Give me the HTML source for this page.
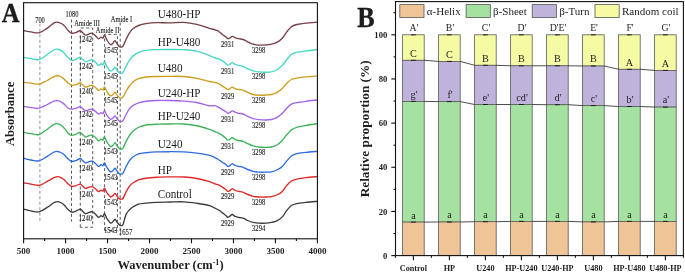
<!DOCTYPE html>
<html><head><meta charset="utf-8"><style>
html,body{margin:0;padding:0;background:#fff;}
svg{display:block;will-change:transform;filter:blur(0.3px);}
text{font-family:"Liberation Serif", serif;fill:#1e1e1e;}
</style></head><body>
<svg width="685" height="275" viewBox="0 0 685 275">
<rect width="685" height="275" fill="#fff"/>
<g stroke="#505050" stroke-width="0.95" stroke-dasharray="3,2.4" fill="none">
<line x1="39.9" y1="23.5" x2="39.9" y2="221.5" stroke="#8a8a8a"/>
<line x1="71.5" y1="19.5" x2="71.5" y2="221.5"/>
<path d="M80.3,227.3 V28 H92.7 V227.3 H80.3"/>
<path d="M104.6,230.5 V34.4 H117.4 V230.5 H104.6"/>
<line x1="120.2" y1="22.5" x2="120.2" y2="235.5"/>
</g>
<path d="M23.60,30.50 C24.83,30.73 28.42,31.52 31.00,31.90 C33.58,32.28 36.38,33.43 39.10,32.80 C41.82,32.17 44.73,29.80 47.30,28.10 C49.87,26.40 52.53,23.52 54.50,22.60 C56.47,21.68 57.58,22.20 59.10,22.60 C60.62,23.00 62.08,23.68 63.60,25.00 C65.12,26.32 66.83,29.13 68.20,30.50 C69.57,31.87 70.43,32.90 71.80,33.20 C73.17,33.50 74.98,32.75 76.40,32.30 C77.82,31.85 79.28,30.45 80.30,30.50 C81.32,30.55 81.63,31.80 82.50,32.58 C83.37,33.35 84.50,34.93 85.50,35.17 C86.50,35.41 87.50,34.36 88.50,34.03 C89.50,33.70 90.75,33.25 91.50,33.20 C92.25,33.15 92.33,33.30 93.00,33.72 C93.67,34.13 94.57,34.84 95.50,35.69 C96.43,36.53 97.68,38.56 98.60,38.80 C99.52,39.04 100.27,37.24 101.00,37.14 C101.73,37.04 102.42,38.51 103.00,38.18 C103.58,37.85 103.83,34.82 104.50,35.17 C105.17,35.51 106.00,38.68 107.00,40.25 C108.00,41.83 109.50,44.13 110.50,44.61 C111.50,45.09 112.25,43.80 113.00,43.16 C113.75,42.52 114.33,40.68 115.00,40.77 C115.67,40.86 116.33,42.76 117.00,43.68 C117.67,44.59 118.37,45.70 119.00,46.27 C119.63,46.84 120.13,47.13 120.80,47.10 C121.47,47.07 122.15,47.29 123.00,46.06 C123.85,44.84 124.82,41.95 125.90,39.75 C126.98,37.55 128.28,34.72 129.50,32.86 C130.72,31.00 131.68,29.83 133.20,28.60 C134.72,27.37 136.48,26.32 138.60,25.50 C140.72,24.68 142.87,24.13 145.90,23.66 C148.93,23.19 152.87,22.81 156.80,22.67 C160.73,22.53 164.97,22.89 169.50,22.84 C174.03,22.80 179.45,22.13 184.00,22.40 C188.55,22.67 192.55,23.46 196.80,24.44 C201.05,25.42 206.47,27.40 209.50,28.29 C212.53,29.19 213.48,29.31 215.00,29.80 C216.52,30.29 217.38,30.46 218.60,31.24 C219.82,32.02 221.08,33.56 222.30,34.50 C223.52,35.44 225.00,36.20 225.90,36.90 C226.80,37.60 227.10,38.48 227.70,38.70 C228.30,38.92 228.73,38.58 229.50,38.20 C230.27,37.82 231.38,36.50 232.30,36.40 C233.22,36.30 233.95,37.22 235.00,37.60 C236.05,37.98 237.23,38.38 238.60,38.70 C239.97,39.02 241.68,38.98 243.20,39.50 C244.72,40.02 246.03,41.02 247.70,41.80 C249.37,42.58 251.38,43.65 253.20,44.20 C255.02,44.75 256.48,44.98 258.60,45.10 C260.72,45.22 263.77,45.05 265.90,44.90 C268.03,44.75 269.58,44.62 271.40,44.20 C273.22,43.78 274.98,43.40 276.80,42.40 C278.62,41.40 280.63,39.97 282.30,38.20 C283.97,36.43 285.28,33.72 286.80,31.80 C288.32,29.88 289.73,27.92 291.40,26.70 C293.07,25.48 294.38,25.10 296.80,24.50 C299.22,23.90 302.47,23.48 305.90,23.10 C309.33,22.72 315.48,22.35 317.40,22.20" fill="none" stroke="#773e48" stroke-width="1.35" stroke-linejoin="round"/>
<path d="M23.60,57.30 C24.83,57.53 28.42,58.32 31.00,58.70 C33.58,59.08 36.38,60.30 39.10,59.60 C41.82,58.90 44.73,56.18 47.30,54.50 C49.87,52.82 52.53,50.33 54.50,49.50 C56.47,48.67 57.58,49.02 59.10,49.50 C60.62,49.98 62.08,51.02 63.60,52.40 C65.12,53.78 66.83,56.47 68.20,57.80 C69.57,59.13 70.43,60.18 71.80,60.40 C73.17,60.62 74.98,59.62 76.40,59.10 C77.82,58.58 79.28,57.26 80.30,57.30 C81.32,57.34 81.63,58.56 82.50,59.31 C83.37,60.07 84.50,61.59 85.50,61.83 C86.50,62.06 87.50,61.04 88.50,60.72 C89.50,60.40 90.75,59.97 91.50,59.92 C92.25,59.87 92.33,60.02 93.00,60.42 C93.67,60.82 94.57,61.51 95.50,62.33 C96.43,63.15 97.68,65.12 98.60,65.35 C99.52,65.58 100.27,63.84 101.00,63.74 C101.73,63.64 102.42,65.06 103.00,64.75 C103.58,64.43 103.83,61.49 104.50,61.83 C105.17,62.16 106.00,65.23 107.00,66.76 C108.00,68.28 109.50,70.52 110.50,70.98 C111.50,71.45 112.25,70.20 113.00,69.58 C113.75,68.96 114.33,67.18 115.00,67.26 C115.67,67.35 116.33,69.19 117.00,70.08 C117.67,70.97 118.37,72.04 119.00,72.59 C119.63,73.15 120.13,73.43 120.80,73.40 C121.47,73.37 122.15,73.53 123.00,72.39 C123.85,71.26 124.82,68.64 125.90,66.60 C126.98,64.56 128.28,61.95 129.50,60.16 C130.72,58.37 131.68,57.17 133.20,55.87 C134.72,54.56 136.48,53.22 138.60,52.31 C140.72,51.40 142.87,50.86 145.90,50.41 C148.93,49.95 152.87,49.71 156.80,49.56 C160.73,49.41 164.97,49.47 169.50,49.50 C174.03,49.52 179.45,49.42 184.00,49.70 C188.55,49.98 192.55,50.20 196.80,51.19 C201.05,52.19 206.47,54.52 209.50,55.65 C212.53,56.79 213.48,57.45 215.00,58.00 C216.52,58.55 217.38,58.49 218.60,58.98 C219.82,59.46 221.08,60.13 222.30,60.90 C223.52,61.67 225.00,62.90 225.90,63.60 C226.80,64.30 227.10,64.95 227.70,65.10 C228.30,65.25 228.73,64.90 229.50,64.50 C230.27,64.10 231.38,62.70 232.30,62.70 C233.22,62.70 233.95,64.05 235.00,64.50 C236.05,64.95 237.23,65.08 238.60,65.40 C239.97,65.72 241.68,65.85 243.20,66.40 C244.72,66.95 246.03,67.95 247.70,68.70 C249.37,69.45 251.38,70.38 253.20,70.90 C255.02,71.42 256.48,71.58 258.60,71.80 C260.72,72.02 263.77,72.20 265.90,72.20 C268.03,72.20 269.58,72.17 271.40,71.80 C273.22,71.43 274.98,71.07 276.80,70.00 C278.62,68.93 280.63,67.13 282.30,65.40 C283.97,63.67 285.28,61.42 286.80,59.60 C288.32,57.78 289.73,55.70 291.40,54.50 C293.07,53.30 294.38,53.00 296.80,52.40 C299.22,51.80 302.47,51.38 305.90,50.90 C309.33,50.42 315.48,49.73 317.40,49.50" fill="none" stroke="#45d6c6" stroke-width="1.35" stroke-linejoin="round"/>
<path d="M23.60,82.30 C24.83,82.45 28.42,82.90 31.00,83.20 C33.58,83.50 36.38,84.55 39.10,84.10 C41.82,83.65 44.73,81.80 47.30,80.50 C49.87,79.20 52.53,77.07 54.50,76.30 C56.47,75.53 57.58,75.52 59.10,75.90 C60.62,76.28 62.08,77.38 63.60,78.60 C65.12,79.82 66.83,82.07 68.20,83.20 C69.57,84.33 70.43,85.17 71.80,85.40 C73.17,85.63 74.98,85.03 76.40,84.60 C77.82,84.17 79.28,82.78 80.30,82.80 C81.32,82.82 81.63,84.00 82.50,84.71 C83.37,85.43 84.50,86.88 85.50,87.10 C86.50,87.33 87.50,86.35 88.50,86.05 C89.50,85.75 90.75,85.33 91.50,85.29 C92.25,85.24 92.33,85.38 93.00,85.76 C93.67,86.15 94.57,86.80 95.50,87.58 C96.43,88.36 97.68,90.23 98.60,90.45 C99.52,90.67 100.27,89.02 101.00,88.92 C101.73,88.82 102.42,90.18 103.00,89.88 C103.58,89.57 103.83,86.78 104.50,87.10 C105.17,87.42 106.00,90.34 107.00,91.79 C108.00,93.24 109.50,95.36 110.50,95.80 C111.50,96.25 112.25,95.06 113.00,94.47 C113.75,93.88 114.33,92.19 115.00,92.27 C115.67,92.35 116.33,94.10 117.00,94.94 C117.67,95.79 118.37,96.81 119.00,97.33 C119.63,97.86 120.13,98.13 120.80,98.10 C121.47,98.07 122.15,98.24 123.00,97.14 C123.85,96.04 124.82,93.40 125.90,91.50 C126.98,89.60 128.28,87.36 129.50,85.73 C130.72,84.11 131.68,82.91 133.20,81.74 C134.72,80.57 136.48,79.50 138.60,78.71 C140.72,77.91 142.87,77.36 145.90,76.99 C148.93,76.62 152.87,76.59 156.80,76.48 C160.73,76.37 164.97,76.32 169.50,76.32 C174.03,76.33 179.45,76.17 184.00,76.50 C188.55,76.83 192.55,77.48 196.80,78.31 C201.05,79.14 206.47,80.81 209.50,81.49 C212.53,82.18 213.48,82.06 215.00,82.40 C216.52,82.74 217.38,82.96 218.60,83.54 C219.82,84.12 221.08,85.11 222.30,85.90 C223.52,86.69 225.00,87.70 225.90,88.30 C226.80,88.90 227.10,89.38 227.70,89.50 C228.30,89.62 228.73,89.38 229.50,89.00 C230.27,88.62 231.38,87.27 232.30,87.20 C233.22,87.13 233.95,88.22 235.00,88.60 C236.05,88.98 237.23,89.25 238.60,89.50 C239.97,89.75 241.68,89.63 243.20,90.10 C244.72,90.57 246.03,91.57 247.70,92.30 C249.37,93.03 251.38,94.02 253.20,94.50 C255.02,94.98 256.48,95.12 258.60,95.20 C260.72,95.28 263.77,95.12 265.90,95.00 C268.03,94.88 269.58,94.90 271.40,94.50 C273.22,94.10 274.98,93.58 276.80,92.60 C278.62,91.62 280.63,90.17 282.30,88.60 C283.97,87.03 285.28,84.72 286.80,83.20 C288.32,81.68 289.73,80.35 291.40,79.50 C293.07,78.65 294.38,78.55 296.80,78.10 C299.22,77.65 302.47,77.17 305.90,76.80 C309.33,76.43 315.48,76.05 317.40,75.90" fill="none" stroke="#cc9e20" stroke-width="1.35" stroke-linejoin="round"/>
<path d="M23.60,106.40 C24.83,106.60 28.42,107.30 31.00,107.60 C33.58,107.90 36.38,108.72 39.10,108.20 C41.82,107.68 44.73,105.72 47.30,104.50 C49.87,103.28 52.53,101.50 54.50,100.90 C56.47,100.30 57.58,100.45 59.10,100.90 C60.62,101.35 62.08,102.38 63.60,103.60 C65.12,104.82 66.83,107.28 68.20,108.20 C69.57,109.12 70.43,109.10 71.80,109.10 C73.17,109.10 74.98,108.60 76.40,108.20 C77.82,107.80 79.28,106.64 80.30,106.70 C81.32,106.76 81.63,107.86 82.50,108.56 C83.37,109.26 84.50,110.67 85.50,110.89 C86.50,111.11 87.50,110.16 88.50,109.87 C89.50,109.57 90.75,109.17 91.50,109.12 C92.25,109.07 92.33,109.21 93.00,109.59 C93.67,109.96 94.57,110.60 95.50,111.36 C96.43,112.12 97.68,113.93 98.60,114.15 C99.52,114.37 100.27,112.75 101.00,112.66 C101.73,112.57 102.42,113.89 103.00,113.59 C103.58,113.30 103.83,110.58 104.50,110.89 C105.17,111.20 106.00,114.04 107.00,115.45 C108.00,116.87 109.50,118.93 110.50,119.36 C111.50,119.80 112.25,118.64 113.00,118.06 C113.75,117.49 114.33,115.84 115.00,115.92 C115.67,116.00 116.33,117.70 117.00,118.53 C117.67,119.35 118.37,120.34 119.00,120.85 C119.63,121.37 120.13,121.63 120.80,121.60 C121.47,121.57 122.15,121.80 123.00,120.67 C123.85,119.54 124.82,116.80 125.90,114.80 C126.98,112.80 128.28,110.26 129.50,108.69 C130.72,107.12 131.68,106.37 133.20,105.39 C134.72,104.41 136.48,103.50 138.60,102.82 C140.72,102.14 142.87,101.68 145.90,101.29 C148.93,100.90 152.87,100.61 156.80,100.48 C160.73,100.34 164.97,100.37 169.50,100.48 C174.03,100.58 179.45,100.76 184.00,101.10 C188.55,101.44 192.55,101.75 196.80,102.52 C201.05,103.30 206.47,105.22 209.50,105.75 C212.53,106.28 213.48,105.43 215.00,105.70 C216.52,105.97 217.38,106.75 218.60,107.40 C219.82,108.05 221.08,108.87 222.30,109.60 C223.52,110.33 225.00,111.18 225.90,111.80 C226.80,112.42 227.10,113.15 227.70,113.30 C228.30,113.45 228.73,113.10 229.50,112.70 C230.27,112.30 231.38,110.98 232.30,110.90 C233.22,110.82 233.95,111.80 235.00,112.20 C236.05,112.60 237.23,113.00 238.60,113.30 C239.97,113.60 241.68,113.48 243.20,114.00 C244.72,114.52 246.03,115.62 247.70,116.40 C249.37,117.18 251.38,118.17 253.20,118.70 C255.02,119.23 256.48,119.38 258.60,119.60 C260.72,119.82 263.77,120.02 265.90,120.00 C268.03,119.98 269.58,119.90 271.40,119.50 C273.22,119.10 274.98,118.63 276.80,117.60 C278.62,116.57 280.63,114.87 282.30,113.30 C283.97,111.73 285.28,109.72 286.80,108.20 C288.32,106.68 289.73,105.12 291.40,104.20 C293.07,103.28 294.38,103.18 296.80,102.70 C299.22,102.22 302.47,101.75 305.90,101.30 C309.33,100.85 315.48,100.22 317.40,100.00" fill="none" stroke="#a462e6" stroke-width="1.35" stroke-linejoin="round"/>
<path d="M23.60,132.30 C24.83,132.53 28.42,133.32 31.00,133.70 C33.58,134.08 36.38,135.35 39.10,134.60 C41.82,133.85 44.73,130.95 47.30,129.20 C49.87,127.45 52.53,124.95 54.50,124.10 C56.47,123.25 57.58,123.55 59.10,124.10 C60.62,124.65 62.08,125.88 63.60,127.40 C65.12,128.92 66.83,131.87 68.20,133.20 C69.57,134.53 70.43,135.25 71.80,135.40 C73.17,135.55 74.98,134.62 76.40,134.10 C77.82,133.58 79.28,132.25 80.30,132.30 C81.32,132.35 81.63,133.62 82.50,134.41 C83.37,135.20 84.50,136.81 85.50,137.05 C86.50,137.30 87.50,136.23 88.50,135.89 C89.50,135.56 90.75,135.10 91.50,135.05 C92.25,134.99 92.33,135.15 93.00,135.57 C93.67,136.00 94.57,136.72 95.50,137.58 C96.43,138.44 97.68,140.50 98.60,140.75 C99.52,141.00 100.27,139.17 101.00,139.06 C101.73,138.95 102.42,140.45 103.00,140.12 C103.58,139.78 103.83,136.70 104.50,137.05 C105.17,137.41 106.00,140.63 107.00,142.23 C108.00,143.83 109.50,146.17 110.50,146.66 C111.50,147.16 112.25,145.84 113.00,145.19 C113.75,144.53 114.33,142.67 115.00,142.76 C115.67,142.84 116.33,144.78 117.00,145.71 C117.67,146.65 118.37,147.77 119.00,148.35 C119.63,148.94 120.13,149.24 120.80,149.20 C121.47,149.16 122.15,149.37 123.00,148.14 C123.85,146.92 124.82,143.97 125.90,141.85 C126.98,139.73 128.28,137.20 129.50,135.40 C130.72,133.61 131.68,132.44 133.20,131.08 C134.72,129.72 136.48,128.25 138.60,127.24 C140.72,126.22 142.87,125.50 145.90,124.99 C148.93,124.48 152.87,124.34 156.80,124.18 C160.73,124.01 164.97,124.03 169.50,124.00 C174.03,123.97 179.45,123.71 184.00,124.00 C188.55,124.29 192.55,124.85 196.80,125.75 C201.05,126.65 206.47,128.42 209.50,129.40 C212.53,130.37 213.48,130.98 215.00,131.60 C216.52,132.22 217.38,132.46 218.60,133.09 C219.82,133.72 221.08,134.53 222.30,135.40 C223.52,136.27 225.00,137.52 225.90,138.30 C226.80,139.08 227.10,139.90 227.70,140.10 C228.30,140.30 228.73,139.90 229.50,139.50 C230.27,139.10 231.38,137.70 232.30,137.70 C233.22,137.70 233.95,139.03 235.00,139.50 C236.05,139.97 237.23,140.18 238.60,140.50 C239.97,140.82 241.68,140.87 243.20,141.40 C244.72,141.93 246.03,142.95 247.70,143.70 C249.37,144.45 251.38,145.35 253.20,145.90 C255.02,146.45 256.48,146.75 258.60,147.00 C260.72,147.25 263.77,147.40 265.90,147.40 C268.03,147.40 269.58,147.40 271.40,147.00 C273.22,146.60 274.98,146.08 276.80,145.00 C278.62,143.92 280.63,142.23 282.30,140.50 C283.97,138.77 285.28,136.37 286.80,134.60 C288.32,132.83 289.73,131.10 291.40,129.90 C293.07,128.70 294.38,128.13 296.80,127.40 C299.22,126.67 302.47,126.12 305.90,125.50 C309.33,124.88 315.48,124.00 317.40,123.70" fill="none" stroke="#3db45a" stroke-width="1.35" stroke-linejoin="round"/>
<path d="M23.60,158.20 C24.83,158.50 28.42,159.55 31.00,160.00 C33.58,160.45 36.38,161.50 39.10,160.90 C41.82,160.30 44.73,157.92 47.30,156.40 C49.87,154.88 52.53,152.57 54.50,151.80 C56.47,151.03 57.58,151.40 59.10,151.80 C60.62,152.20 62.08,152.98 63.60,154.20 C65.12,155.42 66.83,157.88 68.20,159.10 C69.57,160.32 70.43,161.28 71.80,161.50 C73.17,161.72 74.98,160.90 76.40,160.40 C77.82,159.90 79.28,158.49 80.30,158.50 C81.32,158.51 81.63,159.73 82.50,160.46 C83.37,161.20 84.50,162.69 85.50,162.92 C86.50,163.14 87.50,162.15 88.50,161.84 C89.50,161.53 90.75,161.10 91.50,161.05 C92.25,161.00 92.33,161.15 93.00,161.54 C93.67,161.93 94.57,162.60 95.50,163.41 C96.43,164.21 97.68,166.12 98.60,166.35 C99.52,166.58 100.27,164.88 101.00,164.78 C101.73,164.68 102.42,166.07 103.00,165.76 C103.58,165.45 103.83,162.59 104.50,162.92 C105.17,163.24 106.00,166.24 107.00,167.72 C108.00,169.21 109.50,171.39 110.50,171.84 C111.50,172.30 112.25,171.08 113.00,170.47 C113.75,169.87 114.33,168.13 115.00,168.21 C115.67,168.30 116.33,170.10 117.00,170.96 C117.67,171.83 118.37,172.88 119.00,173.41 C119.63,173.95 120.13,174.23 120.80,174.20 C121.47,174.17 122.15,174.41 123.00,173.22 C123.85,172.03 124.82,169.14 125.90,167.05 C126.98,164.96 128.28,162.37 129.50,160.66 C130.72,158.95 131.68,157.90 133.20,156.76 C134.72,155.63 136.48,154.51 138.60,153.84 C140.72,153.17 142.87,153.08 145.90,152.76 C148.93,152.45 152.87,152.11 156.80,151.93 C160.73,151.75 164.97,151.71 169.50,151.70 C174.03,151.69 179.45,151.67 184.00,151.90 C188.55,152.13 192.55,152.52 196.80,153.10 C201.05,153.68 206.47,154.64 209.50,155.39 C212.53,156.14 213.48,156.88 215.00,157.60 C216.52,158.32 217.38,158.94 218.60,159.71 C219.82,160.48 221.08,161.40 222.30,162.20 C223.52,163.00 225.00,163.80 225.90,164.50 C226.80,165.20 227.10,166.18 227.70,166.40 C228.30,166.62 228.73,166.27 229.50,165.80 C230.27,165.33 231.38,163.65 232.30,163.60 C233.22,163.55 233.95,165.03 235.00,165.50 C236.05,165.97 237.23,166.10 238.60,166.40 C239.97,166.70 241.68,166.78 243.20,167.30 C244.72,167.82 246.03,168.83 247.70,169.50 C249.37,170.17 251.38,170.85 253.20,171.30 C255.02,171.75 256.48,172.05 258.60,172.20 C260.72,172.35 263.77,172.27 265.90,172.20 C268.03,172.13 269.58,172.17 271.40,171.80 C273.22,171.43 274.98,170.90 276.80,170.00 C278.62,169.10 280.63,167.92 282.30,166.40 C283.97,164.88 285.28,162.63 286.80,160.90 C288.32,159.17 289.73,157.22 291.40,156.00 C293.07,154.78 294.38,154.20 296.80,153.60 C299.22,153.00 302.47,152.78 305.90,152.40 C309.33,152.02 315.48,151.48 317.40,151.30" fill="none" stroke="#2f6be0" stroke-width="1.35" stroke-linejoin="round"/>
<path d="M23.60,182.80 C24.83,183.02 28.42,183.67 31.00,184.10 C33.58,184.53 36.38,185.85 39.10,185.40 C41.82,184.95 44.73,182.73 47.30,181.40 C49.87,180.07 52.53,178.17 54.50,177.40 C56.47,176.63 57.58,176.50 59.10,176.80 C60.62,177.10 62.08,177.98 63.60,179.20 C65.12,180.42 66.83,182.88 68.20,184.10 C69.57,185.32 70.43,186.28 71.80,186.50 C73.17,186.72 74.98,185.80 76.40,185.40 C77.82,185.00 79.28,184.00 80.30,184.10 C81.32,184.20 81.63,185.28 82.50,185.99 C83.37,186.70 84.50,188.13 85.50,188.35 C86.50,188.57 87.50,187.61 88.50,187.31 C89.50,187.01 90.75,186.60 91.50,186.55 C92.25,186.51 92.33,186.65 93.00,187.03 C93.67,187.40 94.57,188.05 95.50,188.82 C96.43,189.59 97.68,191.43 98.60,191.65 C99.52,191.87 100.27,190.23 101.00,190.14 C101.73,190.05 102.42,191.38 103.00,191.08 C103.58,190.78 103.83,188.03 104.50,188.35 C105.17,188.66 106.00,191.54 107.00,192.97 C108.00,194.40 109.50,196.49 110.50,196.94 C111.50,197.38 112.25,196.20 113.00,195.61 C113.75,195.03 114.33,193.36 115.00,193.44 C115.67,193.52 116.33,195.25 117.00,196.09 C117.67,196.92 118.37,197.93 119.00,198.44 C119.63,198.96 120.13,199.23 120.80,199.20 C121.47,199.17 122.15,199.40 123.00,198.26 C123.85,197.11 124.82,194.37 125.90,192.35 C126.98,190.33 128.28,187.75 129.50,186.15 C130.72,184.55 131.68,183.81 133.20,182.78 C134.72,181.75 136.48,180.72 138.60,179.97 C140.72,179.21 142.87,178.71 145.90,178.26 C148.93,177.81 152.87,177.49 156.80,177.27 C160.73,177.05 164.97,176.99 169.50,176.95 C174.03,176.90 179.45,176.74 184.00,177.00 C188.55,177.26 192.55,177.72 196.80,178.49 C201.05,179.25 206.47,180.71 209.50,181.60 C212.53,182.49 213.48,183.25 215.00,183.80 C216.52,184.35 217.38,184.32 218.60,184.89 C219.82,185.46 221.08,186.43 222.30,187.20 C223.52,187.97 225.00,188.80 225.90,189.50 C226.80,190.20 227.10,191.18 227.70,191.40 C228.30,191.62 228.73,191.27 229.50,190.80 C230.27,190.33 231.38,188.65 232.30,188.60 C233.22,188.55 233.95,190.03 235.00,190.50 C236.05,190.97 237.23,191.10 238.60,191.40 C239.97,191.70 241.68,191.78 243.20,192.30 C244.72,192.82 246.03,193.83 247.70,194.50 C249.37,195.17 251.38,195.88 253.20,196.30 C255.02,196.72 256.48,196.88 258.60,197.00 C260.72,197.12 263.77,197.07 265.90,197.00 C268.03,196.93 269.58,196.93 271.40,196.60 C273.22,196.27 274.98,195.87 276.80,195.00 C278.62,194.13 280.63,193.00 282.30,191.40 C283.97,189.80 285.28,187.13 286.80,185.40 C288.32,183.67 289.73,182.03 291.40,181.00 C293.07,179.97 294.38,179.75 296.80,179.20 C299.22,178.65 302.47,178.13 305.90,177.70 C309.33,177.27 315.48,176.78 317.40,176.60" fill="none" stroke="#e02828" stroke-width="1.35" stroke-linejoin="round"/>
<path d="M23.60,209.10 C24.83,209.40 28.42,210.45 31.00,210.90 C33.58,211.35 36.38,212.40 39.10,211.80 C41.82,211.20 44.73,208.87 47.30,207.30 C49.87,205.73 52.53,203.32 54.50,202.40 C56.47,201.48 57.58,201.45 59.10,201.80 C60.62,202.15 62.08,203.20 63.60,204.50 C65.12,205.80 66.83,208.32 68.20,209.60 C69.57,210.88 70.43,211.98 71.80,212.20 C73.17,212.42 74.98,211.42 76.40,210.90 C77.82,210.38 79.28,209.06 80.30,209.10 C81.32,209.14 81.63,210.38 82.50,211.15 C83.37,211.92 84.50,213.47 85.50,213.71 C86.50,213.95 87.50,212.91 88.50,212.59 C89.50,212.26 90.75,211.82 91.50,211.76 C92.25,211.71 92.33,211.87 93.00,212.28 C93.67,212.69 94.57,213.39 95.50,214.22 C96.43,215.06 97.68,217.06 98.60,217.30 C99.52,217.54 100.27,215.76 101.00,215.66 C101.73,215.56 102.42,217.01 103.00,216.69 C103.58,216.36 103.83,213.37 104.50,213.71 C105.17,214.05 106.00,217.18 107.00,218.73 C108.00,220.29 109.50,222.56 110.50,223.04 C111.50,223.52 112.25,222.24 113.00,221.60 C113.75,220.97 114.33,219.16 115.00,219.25 C115.67,219.33 116.33,221.21 117.00,222.12 C117.67,223.02 118.37,224.12 119.00,224.68 C119.63,225.24 120.13,225.53 120.80,225.50 C121.47,225.47 122.15,226.26 123.00,224.47 C123.85,222.69 124.82,217.26 125.90,214.80 C126.98,212.34 128.28,211.08 129.50,209.74 C130.72,208.41 131.68,207.72 133.20,206.79 C134.72,205.86 136.48,204.75 138.60,204.15 C140.72,203.54 142.87,203.47 145.90,203.16 C148.93,202.86 152.87,202.52 156.80,202.33 C160.73,202.14 164.97,202.11 169.50,202.02 C174.03,201.93 179.45,201.59 184.00,201.80 C188.55,202.01 192.55,202.64 196.80,203.28 C201.05,203.92 206.47,204.82 209.50,205.64 C212.53,206.46 213.48,207.47 215.00,208.20 C216.52,208.93 217.38,209.25 218.60,210.00 C219.82,210.75 221.08,211.78 222.30,212.70 C223.52,213.62 225.00,214.73 225.90,215.50 C226.80,216.27 227.10,217.15 227.70,217.30 C228.30,217.45 228.73,216.87 229.50,216.40 C230.27,215.93 231.38,214.50 232.30,214.50 C233.22,214.50 233.95,215.93 235.00,216.40 C236.05,216.87 237.23,217.00 238.60,217.30 C239.97,217.60 241.68,217.67 243.20,218.20 C244.72,218.73 246.03,219.80 247.70,220.50 C249.37,221.20 251.38,221.97 253.20,222.40 C255.02,222.83 256.48,222.98 258.60,223.10 C260.72,223.22 263.77,223.22 265.90,223.10 C268.03,222.98 269.58,222.77 271.40,222.40 C273.22,222.03 274.98,221.82 276.80,220.90 C278.62,219.98 280.63,218.65 282.30,216.90 C283.97,215.15 285.28,212.30 286.80,210.40 C288.32,208.50 289.73,206.63 291.40,205.50 C293.07,204.37 294.38,204.12 296.80,203.60 C299.22,203.08 302.47,202.78 305.90,202.40 C309.33,202.02 315.48,201.48 317.40,201.30" fill="none" stroke="#3c3c3c" stroke-width="1.35" stroke-linejoin="round"/>
<rect x="23.6" y="2.7" width="293.80" height="236.10" fill="none" stroke="#111" stroke-width="1.1"/>
<line x1="23.60" y1="238.8" x2="23.60" y2="243.20000000000002" stroke="#111" stroke-width="1.1"/>
<line x1="44.59" y1="238.8" x2="44.59" y2="241.0" stroke="#111" stroke-width="1.1"/>
<line x1="65.57" y1="238.8" x2="65.57" y2="243.20000000000002" stroke="#111" stroke-width="1.1"/>
<line x1="86.56" y1="238.8" x2="86.56" y2="241.0" stroke="#111" stroke-width="1.1"/>
<line x1="107.54" y1="238.8" x2="107.54" y2="243.20000000000002" stroke="#111" stroke-width="1.1"/>
<line x1="128.53" y1="238.8" x2="128.53" y2="241.0" stroke="#111" stroke-width="1.1"/>
<line x1="149.51" y1="238.8" x2="149.51" y2="243.20000000000002" stroke="#111" stroke-width="1.1"/>
<line x1="170.50" y1="238.8" x2="170.50" y2="241.0" stroke="#111" stroke-width="1.1"/>
<line x1="191.49" y1="238.8" x2="191.49" y2="243.20000000000002" stroke="#111" stroke-width="1.1"/>
<line x1="212.47" y1="238.8" x2="212.47" y2="241.0" stroke="#111" stroke-width="1.1"/>
<line x1="233.46" y1="238.8" x2="233.46" y2="243.20000000000002" stroke="#111" stroke-width="1.1"/>
<line x1="254.44" y1="238.8" x2="254.44" y2="241.0" stroke="#111" stroke-width="1.1"/>
<line x1="275.43" y1="238.8" x2="275.43" y2="243.20000000000002" stroke="#111" stroke-width="1.1"/>
<line x1="296.41" y1="238.8" x2="296.41" y2="241.0" stroke="#111" stroke-width="1.1"/>
<line x1="317.40" y1="238.8" x2="317.40" y2="243.20000000000002" stroke="#111" stroke-width="1.1"/>
<text x="23.60" y="253.6" font-size="9" font-weight="bold" text-anchor="middle">500</text>
<text x="65.57" y="253.6" font-size="9" font-weight="bold" text-anchor="middle">1000</text>
<text x="107.54" y="253.6" font-size="9" font-weight="bold" text-anchor="middle">1500</text>
<text x="149.51" y="253.6" font-size="9" font-weight="bold" text-anchor="middle">2000</text>
<text x="191.49" y="253.6" font-size="9" font-weight="bold" text-anchor="middle">2500</text>
<text x="233.46" y="253.6" font-size="9" font-weight="bold" text-anchor="middle">3000</text>
<text x="275.43" y="253.6" font-size="9" font-weight="bold" text-anchor="middle">3500</text>
<text x="317.40" y="253.6" font-size="9" font-weight="bold" text-anchor="middle">4000</text>
<text x="170.5" y="269.2" font-size="12.5" font-weight="bold" text-anchor="middle">Wavenumber (cm<tspan font-size="8" dy="-4.5">-1</tspan><tspan dy="4.5">)</tspan></text>
<text transform="translate(13.6,113.9) rotate(-90)" font-size="12.6" font-weight="bold" text-anchor="middle">Absorbance</text>
<text transform="translate(1.8,22.0) scale(0.93,1)" font-size="26.6" font-weight="bold" fill="#000" stroke="#000" stroke-width="0.3">A</text>
<text transform="translate(157.7,18.45) scale(0.97,1)" font-size="11.5" fill="#222">U480-HP</text>
<text transform="translate(157.7,45.65) scale(0.97,1)" font-size="11.5" fill="#222">HP-U480</text>
<text transform="translate(157.7,72.05) scale(0.97,1)" font-size="11.5" fill="#222">U480</text>
<text transform="translate(157.7,96.55) scale(0.97,1)" font-size="11.5" fill="#222">U240-HP</text>
<text transform="translate(157.7,120.25) scale(0.97,1)" font-size="11.5" fill="#222">HP-U240</text>
<text transform="translate(157.7,147.95) scale(0.97,1)" font-size="11.5" fill="#222">U240</text>
<text transform="translate(157.7,174.45) scale(0.97,1)" font-size="11.5" fill="#222">HP</text>
<text transform="translate(157.7,197.95) scale(0.97,1)" font-size="11.5" fill="#222">Control</text>
<g font-size="7.2" stroke="#222" stroke-width="0.12">
<text transform="translate(40.00,22.50) scale(0.9,1)" text-anchor="middle">700</text>
<text transform="translate(72.00,17.10) scale(0.9,1)" text-anchor="middle">1080</text>
<text transform="translate(87.00,26.00) scale(0.9,1)" text-anchor="middle">Amide III</text>
<text transform="translate(107.60,33.10) scale(0.9,1)" text-anchor="middle">Amide II</text>
<text transform="translate(121.50,22.10) scale(0.9,1)" text-anchor="middle">Amide I</text>
<text transform="translate(78.70,42.40) scale(0.86,1)" font-size="7.8">1242</text>
<text transform="translate(78.70,69.10) scale(0.86,1)" font-size="7.8">1242</text>
<text transform="translate(78.70,94.20) scale(0.86,1)" font-size="7.8">1240</text>
<text transform="translate(78.70,116.60) scale(0.86,1)" font-size="7.8">1242</text>
<text transform="translate(78.70,144.80) scale(0.86,1)" font-size="7.8">1240</text>
<text transform="translate(78.70,171.00) scale(0.86,1)" font-size="7.8">1240</text>
<text transform="translate(78.70,196.60) scale(0.86,1)" font-size="7.8">1240</text>
<text transform="translate(78.70,220.60) scale(0.86,1)" font-size="7.8">1240</text>
<text transform="translate(104.00,52.60) scale(0.86,1)" font-size="7.8">1545</text>
<text transform="translate(104.00,78.70) scale(0.86,1)" font-size="7.8">1545</text>
<text transform="translate(104.00,102.90) scale(0.86,1)" font-size="7.8">1545</text>
<text transform="translate(104.00,126.20) scale(0.86,1)" font-size="7.8">1545</text>
<text transform="translate(104.00,154.40) scale(0.86,1)" font-size="7.8">1543</text>
<text transform="translate(104.00,179.80) scale(0.86,1)" font-size="7.8">1543</text>
<text transform="translate(104.00,205.10) scale(0.86,1)" font-size="7.8">1543</text>
<text transform="translate(104.00,232.50) scale(0.86,1)" font-size="7.8">1543</text>
<text transform="translate(220.90,47.00) scale(0.86,1)" font-size="7.8">2931</text>
<text transform="translate(220.90,73.70) scale(0.86,1)" font-size="7.8">2931</text>
<text transform="translate(220.90,98.70) scale(0.86,1)" font-size="7.8">2929</text>
<text transform="translate(220.90,121.50) scale(0.86,1)" font-size="7.8">2931</text>
<text transform="translate(220.90,148.70) scale(0.86,1)" font-size="7.8">2931</text>
<text transform="translate(220.90,175.10) scale(0.86,1)" font-size="7.8">2929</text>
<text transform="translate(220.90,199.20) scale(0.86,1)" font-size="7.8">2929</text>
<text transform="translate(220.90,226.10) scale(0.86,1)" font-size="7.8">2929</text>
<text transform="translate(252.00,53.00) scale(0.86,1)" font-size="7.8">3298</text>
<text transform="translate(252.00,79.40) scale(0.86,1)" font-size="7.8">3298</text>
<text transform="translate(252.00,103.10) scale(0.86,1)" font-size="7.8">3298</text>
<text transform="translate(252.00,127.60) scale(0.86,1)" font-size="7.8">3298</text>
<text transform="translate(252.00,154.90) scale(0.86,1)" font-size="7.8">3298</text>
<text transform="translate(252.00,179.90) scale(0.86,1)" font-size="7.8">3298</text>
<text transform="translate(252.00,204.90) scale(0.86,1)" font-size="7.8">3298</text>
<text transform="translate(252.00,230.70) scale(0.86,1)" font-size="7.8">3294</text>
<text transform="translate(118.90,235.30) scale(0.86,1)" font-size="7.8">1657</text>
</g>
<rect x="402.60" y="34.80" width="21.6" height="25.50" fill="#f4fba2" stroke="#5a5a5a" stroke-width="0.8"/>
<rect x="402.60" y="60.30" width="21.6" height="41.10" fill="#bfb3dc" stroke="#5a5a5a" stroke-width="0.8"/>
<rect x="402.60" y="101.40" width="21.6" height="120.70" fill="#a5e1a0" stroke="#5a5a5a" stroke-width="0.8"/>
<rect x="402.60" y="222.10" width="21.6" height="33.50" fill="#efc497" stroke="#5a5a5a" stroke-width="0.8"/>
<rect x="438.60" y="34.80" width="21.6" height="26.60" fill="#f4fba2" stroke="#5a5a5a" stroke-width="0.8"/>
<rect x="438.60" y="61.40" width="21.6" height="40.20" fill="#bfb3dc" stroke="#5a5a5a" stroke-width="0.8"/>
<rect x="438.60" y="101.60" width="21.6" height="120.40" fill="#a5e1a0" stroke="#5a5a5a" stroke-width="0.8"/>
<rect x="438.60" y="222.00" width="21.6" height="33.60" fill="#efc497" stroke="#5a5a5a" stroke-width="0.8"/>
<rect x="474.60" y="34.80" width="21.6" height="30.50" fill="#f4fba2" stroke="#5a5a5a" stroke-width="0.8"/>
<rect x="474.60" y="65.30" width="21.6" height="39.20" fill="#bfb3dc" stroke="#5a5a5a" stroke-width="0.8"/>
<rect x="474.60" y="104.50" width="21.6" height="117.20" fill="#a5e1a0" stroke="#5a5a5a" stroke-width="0.8"/>
<rect x="474.60" y="221.70" width="21.6" height="33.90" fill="#efc497" stroke="#5a5a5a" stroke-width="0.8"/>
<rect x="510.60" y="34.80" width="21.6" height="31.00" fill="#f4fba2" stroke="#5a5a5a" stroke-width="0.8"/>
<rect x="510.60" y="65.80" width="21.6" height="38.70" fill="#bfb3dc" stroke="#5a5a5a" stroke-width="0.8"/>
<rect x="510.60" y="104.50" width="21.6" height="116.90" fill="#a5e1a0" stroke="#5a5a5a" stroke-width="0.8"/>
<rect x="510.60" y="221.40" width="21.6" height="34.20" fill="#efc497" stroke="#5a5a5a" stroke-width="0.8"/>
<rect x="546.60" y="34.80" width="21.6" height="31.00" fill="#f4fba2" stroke="#5a5a5a" stroke-width="0.8"/>
<rect x="546.60" y="65.80" width="21.6" height="38.90" fill="#bfb3dc" stroke="#5a5a5a" stroke-width="0.8"/>
<rect x="546.60" y="104.70" width="21.6" height="116.70" fill="#a5e1a0" stroke="#5a5a5a" stroke-width="0.8"/>
<rect x="546.60" y="221.40" width="21.6" height="34.20" fill="#efc497" stroke="#5a5a5a" stroke-width="0.8"/>
<rect x="582.60" y="34.80" width="21.6" height="31.20" fill="#f4fba2" stroke="#5a5a5a" stroke-width="0.8"/>
<rect x="582.60" y="66.00" width="21.6" height="39.60" fill="#bfb3dc" stroke="#5a5a5a" stroke-width="0.8"/>
<rect x="582.60" y="105.60" width="21.6" height="116.30" fill="#a5e1a0" stroke="#5a5a5a" stroke-width="0.8"/>
<rect x="582.60" y="221.90" width="21.6" height="33.70" fill="#efc497" stroke="#5a5a5a" stroke-width="0.8"/>
<rect x="618.60" y="34.80" width="21.6" height="34.50" fill="#f4fba2" stroke="#5a5a5a" stroke-width="0.8"/>
<rect x="618.60" y="69.30" width="21.6" height="37.20" fill="#bfb3dc" stroke="#5a5a5a" stroke-width="0.8"/>
<rect x="618.60" y="106.50" width="21.6" height="114.90" fill="#a5e1a0" stroke="#5a5a5a" stroke-width="0.8"/>
<rect x="618.60" y="221.40" width="21.6" height="34.20" fill="#efc497" stroke="#5a5a5a" stroke-width="0.8"/>
<rect x="654.60" y="34.80" width="21.6" height="35.60" fill="#f4fba2" stroke="#5a5a5a" stroke-width="0.8"/>
<rect x="654.60" y="70.40" width="21.6" height="36.70" fill="#bfb3dc" stroke="#5a5a5a" stroke-width="0.8"/>
<rect x="654.60" y="107.10" width="21.6" height="114.30" fill="#a5e1a0" stroke="#5a5a5a" stroke-width="0.8"/>
<rect x="654.60" y="221.40" width="21.6" height="34.20" fill="#efc497" stroke="#5a5a5a" stroke-width="0.8"/>
<path d="M424.20,222.10 L438.60,222.00 M460.20,222.00 L474.60,221.70 M496.20,221.70 L510.60,221.40 M532.20,221.40 L546.60,221.40 M568.20,221.40 L582.60,221.90 M604.20,221.90 L618.60,221.40 M640.20,221.40 L654.60,221.40 " stroke="#222" stroke-width="0.8" fill="none"/>
<path d="M424.20,101.40 L438.60,101.60 M460.20,101.60 L474.60,104.50 M496.20,104.50 L510.60,104.50 M532.20,104.50 L546.60,104.70 M568.20,104.70 L582.60,105.60 M604.20,105.60 L618.60,106.50 M640.20,106.50 L654.60,107.10 " stroke="#222" stroke-width="0.8" fill="none"/>
<path d="M424.20,60.30 L438.60,61.40 M460.20,61.40 L474.60,65.30 M496.20,65.30 L510.60,65.80 M532.20,65.80 L546.60,65.80 M568.20,65.80 L582.60,66.00 M604.20,66.00 L618.60,69.30 M640.20,69.30 L654.60,70.40 " stroke="#222" stroke-width="0.8" fill="none"/>
<line x1="411.00" y1="34.80" x2="415.80" y2="34.80" stroke="#1a1a1a" stroke-width="1.0"/>
<line x1="411.00" y1="60.30" x2="415.80" y2="60.30" stroke="#1a1a1a" stroke-width="1.0"/>
<line x1="411.00" y1="101.40" x2="415.80" y2="101.40" stroke="#1a1a1a" stroke-width="1.0"/>
<line x1="411.00" y1="222.10" x2="415.80" y2="222.10" stroke="#1a1a1a" stroke-width="1.0"/>
<line x1="447.00" y1="34.80" x2="451.80" y2="34.80" stroke="#1a1a1a" stroke-width="1.0"/>
<line x1="447.00" y1="61.40" x2="451.80" y2="61.40" stroke="#1a1a1a" stroke-width="1.0"/>
<line x1="447.00" y1="101.60" x2="451.80" y2="101.60" stroke="#1a1a1a" stroke-width="1.0"/>
<line x1="447.00" y1="222.00" x2="451.80" y2="222.00" stroke="#1a1a1a" stroke-width="1.0"/>
<line x1="483.00" y1="34.80" x2="487.80" y2="34.80" stroke="#1a1a1a" stroke-width="1.0"/>
<line x1="483.00" y1="65.30" x2="487.80" y2="65.30" stroke="#1a1a1a" stroke-width="1.0"/>
<line x1="483.00" y1="104.50" x2="487.80" y2="104.50" stroke="#1a1a1a" stroke-width="1.0"/>
<line x1="483.00" y1="221.70" x2="487.80" y2="221.70" stroke="#1a1a1a" stroke-width="1.0"/>
<line x1="519.00" y1="34.80" x2="523.80" y2="34.80" stroke="#1a1a1a" stroke-width="1.0"/>
<line x1="519.00" y1="65.80" x2="523.80" y2="65.80" stroke="#1a1a1a" stroke-width="1.0"/>
<line x1="519.00" y1="104.50" x2="523.80" y2="104.50" stroke="#1a1a1a" stroke-width="1.0"/>
<line x1="519.00" y1="221.40" x2="523.80" y2="221.40" stroke="#1a1a1a" stroke-width="1.0"/>
<line x1="555.00" y1="34.80" x2="559.80" y2="34.80" stroke="#1a1a1a" stroke-width="1.0"/>
<line x1="555.00" y1="65.80" x2="559.80" y2="65.80" stroke="#1a1a1a" stroke-width="1.0"/>
<line x1="555.00" y1="104.70" x2="559.80" y2="104.70" stroke="#1a1a1a" stroke-width="1.0"/>
<line x1="555.00" y1="221.40" x2="559.80" y2="221.40" stroke="#1a1a1a" stroke-width="1.0"/>
<line x1="591.00" y1="34.80" x2="595.80" y2="34.80" stroke="#1a1a1a" stroke-width="1.0"/>
<line x1="591.00" y1="66.00" x2="595.80" y2="66.00" stroke="#1a1a1a" stroke-width="1.0"/>
<line x1="591.00" y1="105.60" x2="595.80" y2="105.60" stroke="#1a1a1a" stroke-width="1.0"/>
<line x1="591.00" y1="221.90" x2="595.80" y2="221.90" stroke="#1a1a1a" stroke-width="1.0"/>
<line x1="627.00" y1="34.80" x2="631.80" y2="34.80" stroke="#1a1a1a" stroke-width="1.0"/>
<line x1="627.00" y1="69.30" x2="631.80" y2="69.30" stroke="#1a1a1a" stroke-width="1.0"/>
<line x1="627.00" y1="106.50" x2="631.80" y2="106.50" stroke="#1a1a1a" stroke-width="1.0"/>
<line x1="627.00" y1="221.40" x2="631.80" y2="221.40" stroke="#1a1a1a" stroke-width="1.0"/>
<line x1="663.00" y1="34.80" x2="667.80" y2="34.80" stroke="#1a1a1a" stroke-width="1.0"/>
<line x1="663.00" y1="70.40" x2="667.80" y2="70.40" stroke="#1a1a1a" stroke-width="1.0"/>
<line x1="663.00" y1="107.10" x2="667.80" y2="107.10" stroke="#1a1a1a" stroke-width="1.0"/>
<line x1="663.00" y1="221.40" x2="667.80" y2="221.40" stroke="#1a1a1a" stroke-width="1.0"/>
<rect x="395.5" y="1.6" width="287.90" height="254.00" fill="none" stroke="#111" stroke-width="1.1"/>
<line x1="391.3" y1="255.60" x2="395.5" y2="255.60" stroke="#111" stroke-width="1.1"/>
<text transform="translate(387.3,258.70) scale(0.94,1)" font-size="9.2" font-weight="bold" text-anchor="end">0</text>
<line x1="393.5" y1="233.52" x2="395.5" y2="233.52" stroke="#111" stroke-width="1.1"/>
<line x1="391.3" y1="211.44" x2="395.5" y2="211.44" stroke="#111" stroke-width="1.1"/>
<text transform="translate(387.3,214.54) scale(0.94,1)" font-size="9.2" font-weight="bold" text-anchor="end">20</text>
<line x1="393.5" y1="189.36" x2="395.5" y2="189.36" stroke="#111" stroke-width="1.1"/>
<line x1="391.3" y1="167.28" x2="395.5" y2="167.28" stroke="#111" stroke-width="1.1"/>
<text transform="translate(387.3,170.38) scale(0.94,1)" font-size="9.2" font-weight="bold" text-anchor="end">40</text>
<line x1="393.5" y1="145.20" x2="395.5" y2="145.20" stroke="#111" stroke-width="1.1"/>
<line x1="391.3" y1="123.12" x2="395.5" y2="123.12" stroke="#111" stroke-width="1.1"/>
<text transform="translate(387.3,126.22) scale(0.94,1)" font-size="9.2" font-weight="bold" text-anchor="end">60</text>
<line x1="393.5" y1="101.04" x2="395.5" y2="101.04" stroke="#111" stroke-width="1.1"/>
<line x1="391.3" y1="78.96" x2="395.5" y2="78.96" stroke="#111" stroke-width="1.1"/>
<text transform="translate(387.3,82.06) scale(0.94,1)" font-size="9.2" font-weight="bold" text-anchor="end">80</text>
<line x1="393.5" y1="56.88" x2="395.5" y2="56.88" stroke="#111" stroke-width="1.1"/>
<line x1="391.3" y1="34.80" x2="395.5" y2="34.80" stroke="#111" stroke-width="1.1"/>
<text transform="translate(387.3,37.90) scale(0.94,1)" font-size="9.2" font-weight="bold" text-anchor="end">100</text>
<line x1="393.5" y1="12.72" x2="395.5" y2="12.72" stroke="#111" stroke-width="1.1"/>
<line x1="413.40" y1="255.6" x2="413.40" y2="260.2" stroke="#111" stroke-width="1.1"/>
<line x1="449.40" y1="255.6" x2="449.40" y2="260.2" stroke="#111" stroke-width="1.1"/>
<line x1="485.40" y1="255.6" x2="485.40" y2="260.2" stroke="#111" stroke-width="1.1"/>
<line x1="521.40" y1="255.6" x2="521.40" y2="260.2" stroke="#111" stroke-width="1.1"/>
<line x1="557.40" y1="255.6" x2="557.40" y2="260.2" stroke="#111" stroke-width="1.1"/>
<line x1="593.40" y1="255.6" x2="593.40" y2="260.2" stroke="#111" stroke-width="1.1"/>
<line x1="629.40" y1="255.6" x2="629.40" y2="260.2" stroke="#111" stroke-width="1.1"/>
<line x1="665.40" y1="255.6" x2="665.40" y2="260.2" stroke="#111" stroke-width="1.1"/>
<line x1="395.40" y1="255.6" x2="395.40" y2="257.7" stroke="#111" stroke-width="1.1"/>
<line x1="431.40" y1="255.6" x2="431.40" y2="257.7" stroke="#111" stroke-width="1.1"/>
<line x1="467.40" y1="255.6" x2="467.40" y2="257.7" stroke="#111" stroke-width="1.1"/>
<line x1="503.40" y1="255.6" x2="503.40" y2="257.7" stroke="#111" stroke-width="1.1"/>
<line x1="539.40" y1="255.6" x2="539.40" y2="257.7" stroke="#111" stroke-width="1.1"/>
<line x1="575.40" y1="255.6" x2="575.40" y2="257.7" stroke="#111" stroke-width="1.1"/>
<line x1="611.40" y1="255.6" x2="611.40" y2="257.7" stroke="#111" stroke-width="1.1"/>
<line x1="647.40" y1="255.6" x2="647.40" y2="257.7" stroke="#111" stroke-width="1.1"/>
<line x1="683.40" y1="255.6" x2="683.40" y2="257.7" stroke="#111" stroke-width="1.1"/>
<text x="413.40" y="270.6" font-size="8.2" font-weight="bold" text-anchor="middle">Control</text>
<text x="449.40" y="270.6" font-size="8.2" font-weight="bold" text-anchor="middle">HP</text>
<text x="485.40" y="270.6" font-size="8.2" font-weight="bold" text-anchor="middle">U240</text>
<text x="521.40" y="270.6" font-size="8.2" font-weight="bold" text-anchor="middle">HP-U240</text>
<text x="557.40" y="270.6" font-size="8.2" font-weight="bold" text-anchor="middle">U240-HP</text>
<text x="593.40" y="270.6" font-size="8.2" font-weight="bold" text-anchor="middle">U480</text>
<text x="629.40" y="270.6" font-size="8.2" font-weight="bold" text-anchor="middle">HP-U480</text>
<text x="665.40" y="270.6" font-size="8.2" font-weight="bold" text-anchor="middle">U480-HP</text>
<text transform="translate(369.2,128.8) rotate(-90)" font-size="13.3" font-weight="bold" text-anchor="middle">Relative proportion (%)</text>
<text transform="translate(357.3,27.0) scale(0.9,1)" font-size="29" font-weight="bold" fill="#000" stroke="#000" stroke-width="0.3">B</text>
<g font-size="9" text-anchor="middle">
<text x="414.00" y="31.2" font-size="9.8">A'</text>
<text x="413.40" y="56.60" font-size="10.2">C</text>
<text x="414.00" y="97.50" font-size="10.2">g'</text>
<text x="413.40" y="218.50" font-size="10.2">a</text>
<text x="450.00" y="31.2" font-size="9.8">B'</text>
<text x="449.40" y="57.70" font-size="10.2">C</text>
<text x="450.00" y="97.70" font-size="10.2">f'</text>
<text x="449.40" y="218.40" font-size="10.2">a</text>
<text x="486.00" y="31.2" font-size="9.8">C'</text>
<text x="485.40" y="61.60" font-size="10.2">B</text>
<text x="486.00" y="100.60" font-size="10.2">e'</text>
<text x="485.40" y="218.10" font-size="10.2">a</text>
<text x="522.00" y="31.2" font-size="9.8">D'</text>
<text x="521.40" y="62.10" font-size="10.2">B</text>
<text x="522.00" y="100.60" font-size="10.2">cd'</text>
<text x="521.40" y="217.80" font-size="10.2">a</text>
<text x="558.00" y="31.2" font-size="9.8">D'E'</text>
<text x="557.40" y="62.10" font-size="10.2">B</text>
<text x="558.00" y="100.80" font-size="10.2">d'</text>
<text x="557.40" y="217.80" font-size="10.2">a</text>
<text x="594.00" y="31.2" font-size="9.8">E'</text>
<text x="593.40" y="62.30" font-size="10.2">B</text>
<text x="594.00" y="101.70" font-size="10.2">c'</text>
<text x="593.40" y="218.30" font-size="10.2">a</text>
<text x="630.00" y="31.2" font-size="9.8">F'</text>
<text x="629.40" y="65.60" font-size="10.2">A</text>
<text x="630.00" y="102.60" font-size="10.2">b'</text>
<text x="629.40" y="217.80" font-size="10.2">a</text>
<text x="666.00" y="31.2" font-size="9.8">G'</text>
<text x="665.40" y="66.70" font-size="10.2">A</text>
<text x="666.00" y="103.20" font-size="10.2">a'</text>
<text x="665.40" y="217.80" font-size="10.2">a</text>
</g>
<rect x="399.8" y="4.6" width="24.2" height="12.8" fill="#efc497" stroke="#555" stroke-width="0.8"/>
<text x="426.8" y="14.6" font-size="11">α-Helix</text>
<rect x="466.1" y="4.6" width="24.2" height="12.8" fill="#a5e1a0" stroke="#555" stroke-width="0.8"/>
<text x="493.1" y="14.6" font-size="11">β-Sheet</text>
<rect x="532.2" y="4.6" width="24.2" height="12.8" fill="#bfb3dc" stroke="#555" stroke-width="0.8"/>
<text x="559.2" y="14.6" font-size="11">β-Turn</text>
<rect x="595.0" y="4.6" width="24.2" height="12.8" fill="#f4fba2" stroke="#555" stroke-width="0.8"/>
<text x="622.0" y="14.6" font-size="11">Random coil</text>
</svg></body></html>
